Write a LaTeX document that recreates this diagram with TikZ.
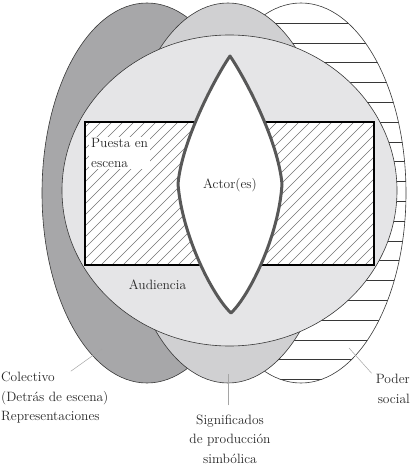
\documentclass[tikz,border=0pt]{standalone}
\usetikzlibrary{shapes.geometric}

\definecolor{oscuro}{RGB}{167,167,169}
\definecolor{medio}{RGB}{208,208,210}
\definecolor{claro}{RGB}{229,229,231}
\definecolor{borde}{RGB}{55,55,55}
\definecolor{actorgris}{RGB}{88,88,88}
\definecolor{guia}{RGB}{165,165,165}

\begin{document}
\begin{tikzpicture}[
	x=1pt, y=-1pt, inner sep=0pt,
	blob/.style={ellipse,draw=borde,line width=0.6pt,minimum width=210,minimum height=380},
	stage/.style={rectangle,draw=black,line width=2.2pt,minimum width=289,minimum height=143},
	rayas/.style={draw=borde,line width=0.5pt},
	hatch/.style={draw=black!55,line width=0.45pt},
	etiqueta/.style={font=\fontsize{13.5}{19.5}\selectfont,text=black!85,inner sep=1pt},
	guide/.style={draw=guia,line width=0.5pt}
	]
	\useasboundingbox (0,0) rectangle (412,465);
	% the three outer ellipses
	\node [blob,fill=oscuro] (colectivo) at (147,193) {};
	\node [blob,fill=white,path picture={
		\foreach \k in {0,...,19} \draw[rayas] ([yshift={-20pt-19.8pt*\k}]path picture bounding box.north west) -- ++(220,0);
		}] (poder) at (301,193) {};
	\node [blob,fill=medio] (significados) at (228,193) {};
	% audience
	\node [ellipse,draw=borde,line width=0.6pt,fill=claro,minimum width=335,minimum height=311] (audiencia) at (229.5,190.5) {};
	% stage
	\node [stage,fill=white,path picture={
		\foreach \s in {-160,-149,...,300} \draw[hatch] ([xshift=\s pt]path picture bounding box.south west) -- ++(170,-170);
		}] (puesta) at (229.5,193.5) {};
	% actor(es)
	\draw [draw=actorgris,line width=3pt,line join=round,fill=white]
		(230,56) .. controls (215,78) and (182,140) .. (178,184)
		.. controls (182,235) and (212,295) .. (231,313)
		.. controls (250,295) and (279,235) .. (282,184)
		.. controls (278,140) and (245,78) .. (230,56) -- cycle;
	\node [etiqueta] (actor) at (230,185) {Actor(es)};
	\node [etiqueta] (aud) at (157.5,285) {Audiencia};
	\node [etiqueta,fill=white,align=left,anchor=west,inner sep=2pt] (puestaen) at (89,153) {Puesta en\\escena};
	% outside labels
	\node [etiqueta,align=left,anchor=west] (colectivolbl) at (0,398) {Colectivo\\(Detrás de escena)\\Representaciones};
	\node [etiqueta,align=center] (signlbl) at (230,439) {Significados\\de producción\\simbólica};
	\node [etiqueta,align=right,anchor=east] (poderlbl) at (411,389) {Poder\\social};
	\coordinate (c1) at (102,349);
	\coordinate (c2) at (228,374);
	\coordinate (c3) at (349,348);
	\draw [guide] (colectivolbl.north) ++(16,0) -- (c1);
	\draw [guide] (signlbl.north) ++(-2,-8) -- (c2);
	\draw [guide] (poderlbl.north west) ++(-3,0) -- (c3);
\end{tikzpicture}
\end{document}
